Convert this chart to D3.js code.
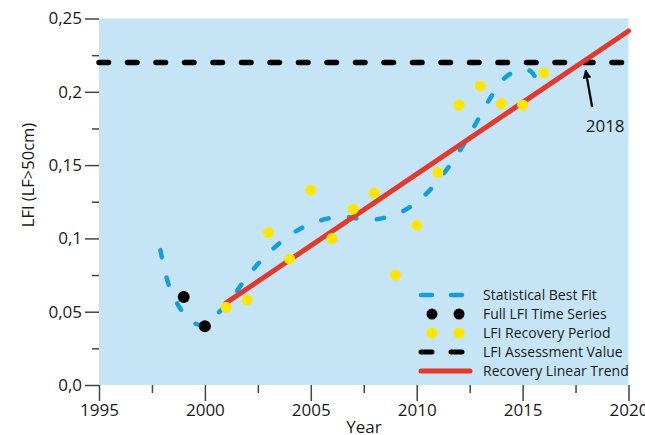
<!DOCTYPE html>
<html>
<head>
<meta charset="utf-8">
<script src="https://cdn.jsdelivr.net/npm/d3@7"></script>
<style>
  html, body { margin: 0; padding: 0; background: #fff; }
  svg { display: block; font-family: "Open Sans", sans-serif; }
</style>
</head>
<body>
<div id="wrapper"></div>
<script>
// data
var fullYears = [1999, 2000];
var fullLFI = [0.060, 0.040];

var recoveryYears = [2001, 2002, 2003, 2004, 2005, 2006, 2007, 2008, 2009, 2010, 2011, 2012, 2013, 2014, 2015, 2016];
var recoveryLFI = [0.053, 0.058, 0.104, 0.086, 0.133, 0.100, 0.120, 0.131, 0.075, 0.109, 0.145, 0.191, 0.204, 0.192, 0.191, 0.213];

var fitYears = [1997.9, 1998.3, 1998.8, 1999.3, 1999.8, 2000.3, 2001.2, 2002.0, 2003.0, 2004.0, 2005.0, 2006.4, 2007.8, 2009.1, 2010.2, 2011.2, 2012.0, 2012.7, 2013.4, 2014.2, 2014.9, 2015.4, 2015.9];
var fitLFI = [0.092, 0.068, 0.053, 0.044, 0.041, 0.045, 0.058, 0.074, 0.090, 0.102, 0.110, 0.1148, 0.1127, 0.1168, 0.127, 0.143, 0.159, 0.176, 0.194, 0.210, 0.215, 0.2138, 0.200];

var trendYears = [2001, 2020];
var trendLFI = [0.056, 0.2415];

var assessmentValue = 0.22;
var targetYear = 2018;

var xTicks = [1995, 2000, 2005, 2010, 2015, 2020];
var xMinorTicks = [1997.5, 2002.5, 2007.5, 2012.5, 2017.5];
var yTicks = [0, 0.05, 0.1, 0.15, 0.2, 0.25];
var yTickLabels = ["0,0", "0,05", "0,1", "0,15", "0,2", "0,25"];
var yMinorTicks = [0.025, 0.075, 0.125, 0.175, 0.225];

var legendLabels = ["Statistical Best Fit", "Full LFI Time Series", "LFI Recovery Period", "LFI Assessment Value", "Recovery Linear Trend"];

function drawChart() {
  var width = 645, height = 435;
  var mLeft = 99, mRight = 628.5, mTop = 18.5, mBottom = 385;

  var blue = "#139fdd", red = "#e2392d", yellow = "#ffe500", bg = "#c5e5f6";

  var x = d3.scaleLinear().domain([1995, 2020]).range([mLeft, mRight]);
  var y = d3.scaleLinear().domain([0, 0.25]).range([mBottom, mTop]);

  const svg = d3.select('#wrapper').append('svg')
    .attr('width', width)
    .attr('height', height)
    .attr('viewBox', [0, 0, width, height]);

  svg.append('rect')
    .attr('x', x(1995)).attr('y', y(0.25))
    .attr('width', x(2020) - x(1995)).attr('height', y(0) - y(0.25))
    .attr('fill', bg);

  // axes
  svg.append('g')
    .attr('transform', `translate(${mLeft},0)`)
    .call(d3.axisLeft(y).tickValues(yTicks).tickSize(14).tickPadding(3)
      .tickFormat((d, i) => yTickLabels[i]));
  svg.append('g')
    .attr('transform', `translate(${mLeft},0)`)
    .call(d3.axisLeft(y).tickValues(yMinorTicks).tickSize(7).tickFormat(''));

  svg.append('g')
    .attr('transform', `translate(0,${mBottom})`)
    .call(d3.axisBottom(x).tickValues(xTicks).tickSize(16).tickPadding(3).tickFormat(d3.format('d')));
  svg.append('g')
    .attr('transform', `translate(0,${mBottom})`)
    .call(d3.axisBottom(x).tickValues(xMinorTicks).tickSize(8).tickFormat(''));

  svg.selectAll('.domain').remove();
  svg.selectAll('.tick line').attr('stroke', '#444').attr('stroke-width', 1.5);
  svg.selectAll('.tick text')
    .attr('fill', '#1a1a1a')
    .style('font-size', '17px')
    .style('font-family', '"Open Sans", sans-serif');

  svg.append('text')
    .attr('transform', `translate(34,175) rotate(-90)`)
    .attr('text-anchor', 'middle')
    .attr('fill', '#1a1a1a')
    .style('font-size', '16.5px')
    .text('LFI (LF>50cm)');

  svg.append('text')
    .attr('x', 364).attr('y', 433)
    .attr('text-anchor', 'middle')
    .attr('fill', '#1a1a1a')
    .style('font-size', '17px')
    .text('Year');

  // assessment value
  svg.append('line')
    .attr('x1', x(1995)).attr('x2', x(2020))
    .attr('y1', y(assessmentValue)).attr('y2', y(assessmentValue))
    .attr('stroke', '#000').attr('stroke-width', 5.5)
    .attr('stroke-linecap', 'round')
    .attr('stroke-dasharray', '9.5,19');

  // statistical fit
  const fitLine = d3.line()
    .x((d, i) => x(fitYears[i]))
    .y(d => y(d))
    .curve(d3.curveCatmullRom.alpha(0.5));
  svg.append('path')
    .attr('d', fitLine(fitLFI))
    .attr('fill', 'none')
    .attr('stroke', blue).attr('stroke-width', 4.5)
    .attr('stroke-linecap', 'round')
    .attr('stroke-dasharray', '7.5,20.5');

  // linear trend
  svg.append('path')
    .attr('d', d3.line().x((d, i) => x(trendYears[i])).y(d => y(d))(trendLFI))
    .attr('fill', 'none')
    .attr('stroke', red).attr('stroke-width', 5)
    .attr('stroke-linecap', 'round');

  // points
  svg.append('g').selectAll('circle')
    .data(fullLFI)
    .join('circle')
    .attr('cx', (d, i) => x(fullYears[i]))
    .attr('cy', d => y(d))
    .attr('r', 6)
    .attr('fill', '#000');

  svg.append('g').selectAll('circle')
    .data(recoveryLFI)
    .join('circle')
    .attr('cx', (d, i) => x(recoveryYears[i]))
    .attr('cy', d => y(d))
    .attr('r', 5.5)
    .attr('fill', yellow);

  // 2018 arrow
  svg.append('defs').append('marker')
    .attr('id', 'arrow')
    .attr('viewBox', '0 0 10 10')
    .attr('refX', 9).attr('refY', 5)
    .attr('markerWidth', 4).attr('markerHeight', 4)
    .attr('orient', 'auto')
    .append('path').attr('d', 'M0,0 L10,5 L0,10 z').attr('fill', '#000');

  svg.append('line')
    .attr('x1', x(targetYear) + 6).attr('y1', 107)
    .attr('x2', x(targetYear) - 0.5).attr('y2', y(assessmentValue) + 8)
    .attr('stroke', '#000').attr('stroke-width', 2.2)
    .attr('marker-end', 'url(#arrow)');

  svg.append('text')
    .attr('x', x(targetYear) + 19).attr('y', 132)
    .attr('text-anchor', 'middle')
    .attr('fill', '#1a1a1a')
    .style('font-size', '17px')
    .text(String(targetYear));

  // legend
  const legend = svg.append('g').attr('transform', 'translate(418,295)');
  const rowH = 19;
  legend.selectAll('text')
    .data(legendLabels)
    .join('text')
    .attr('x', 65)
    .attr('y', (d, i) => i * rowH + 5)
    .attr('fill', '#1a1a1a')
    .style('font-size', '14px')
    .text(d => d);

  [0, 1].forEach(k => {
    legend.append('line')
      .attr('x1', 3 + k * 30).attr('x2', 14 + k * 30)
      .attr('y1', 0).attr('y2', 0)
      .attr('stroke', blue).attr('stroke-width', 4.5).attr('stroke-linecap', 'round');
    legend.append('circle').attr('cx', 14 + k * 27).attr('cy', rowH).attr('r', 5.5).attr('fill', '#000');
    legend.append('circle').attr('cx', 14 + k * 27).attr('cy', rowH * 2).attr('r', 5.5).attr('fill', yellow);
    legend.append('line')
      .attr('x1', 3 + k * 30).attr('x2', 14 + k * 30)
      .attr('y1', rowH * 3).attr('y2', rowH * 3)
      .attr('stroke', '#000').attr('stroke-width', 5).attr('stroke-linecap', 'round');
  });
  legend.append('line')
    .attr('x1', 3).attr('x2', 52)
    .attr('y1', rowH * 4).attr('y2', rowH * 4)
    .attr('stroke', red).attr('stroke-width', 5).attr('stroke-linecap', 'round');
}
drawChart();
</script>
</body>
</html>
